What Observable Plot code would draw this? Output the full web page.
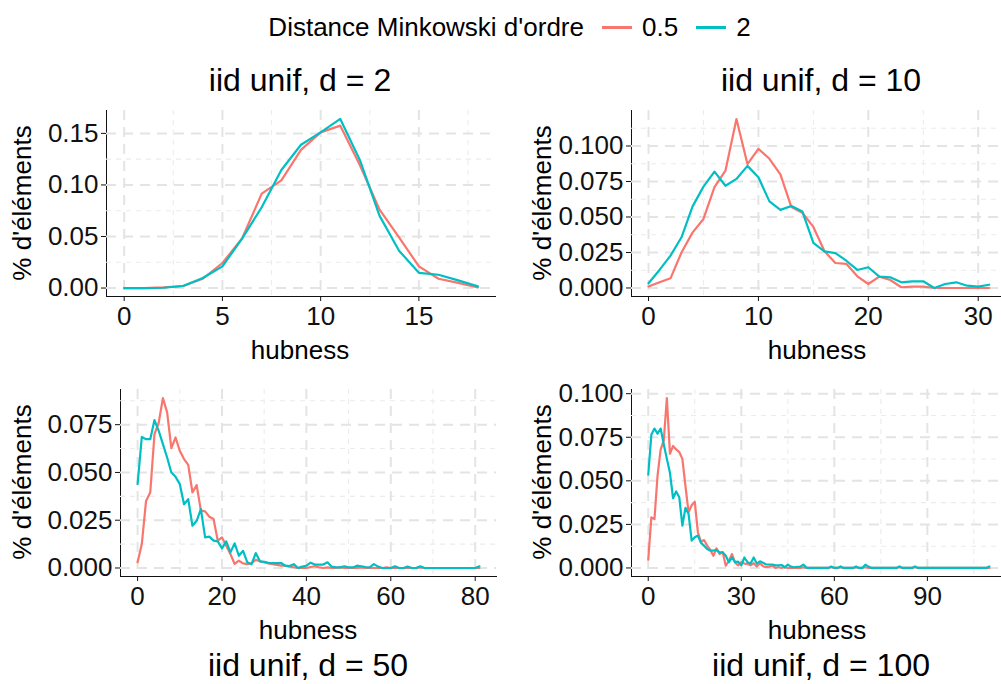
<!DOCTYPE html>
<html><head><meta charset="utf-8">
<script src="https://cdn.jsdelivr.net/npm/d3@7"></script>
<script src="https://cdn.jsdelivr.net/npm/@observablehq/plot@0.6"></script>
<style>
html,body{margin:0;padding:0;background:#fff;overflow:hidden}
#wrap{position:relative;width:1001px;height:684px;font-family:"Liberation Sans",Arial,sans-serif;color:#000}
.t{position:absolute;white-space:nowrap;line-height:1;transform:translate(-50%,-50%)}
.p{position:absolute}
</style></head><body><div id="wrap"></div>
<script>
// ---- data ----
const seriesNames = ["0.5", "2"];
const seriesColors = ["#F8766D", "#00BFC4"];
const legendTitle = "Distance Minkowski d'ordre";
const yLabel = "% d'éléments";
const xLabel = "hubness";
const titles = ["iid unif, d = 2", "iid unif, d = 10", "iid unif, d = 50", "iid unif, d = 100"];

const d2_hub = [0,1,2,3,4,5,6,7,8,9,10,11,12,13,14,15,16,17,18];
const d2_p05 = [0,0,0.0006,0.002,0.009,0.0243,0.048,0.0916,0.1045,0.134,0.151,0.1575,0.119,0.076,0.049,0.021,0.009,0.005,0.0005];
const d2_p2  = [0,0,0.0003,0.002,0.0097,0.021,0.048,0.0784,0.1145,0.139,0.151,0.164,0.124,0.070,0.036,0.0148,0.0129,0.0074,0.0016];

const d10_hub = [0,1,2,3,4,5,6,7,8,9,10,11,12,13,14,15,16,17,18,19,20,21,22,23,24,25,26,27,28,29,30,31];
const d10_p05 = [0.001,0.004,0.0068,0.025,0.039,0.0486,0.071,0.0826,0.119,0.0873,0.098,0.091,0.080,0.057,0.053,0.043,0.026,0.0176,0.017,0.0082,0.0028,0.008,0.0056,0.0005,0.001,0.001,0,0,0,0,0,0];
const d10_p2  = [0.0033,0.0127,0.0228,0.0357,0.0573,0.0714,0.082,0.072,0.0768,0.086,0.078,0.061,0.055,0.0578,0.0538,0.0317,0.0258,0.0246,0.0192,0.0127,0.0146,0.008,0.0075,0.004,0.0047,0.0047,0,0.0028,0.004,0.0016,0.001,0.0023];

const d50_hub = [0,1,2,3,4,5,6,7,8,9,10,11,12,13,14,15,16,17,18,19,20,21,22,23,24,25,26,27,28,29,30,31,32,33,34,35,36,37,38,39,40,41,42,43,44,45,46,47,48,49,50,51,52,53,54,55,56,57,58,59,60,61,62,63,64,65,66,67,68,69,70,71,72,73,74,75,76,77,78,79,80,81];
const d50_p05 = [0.003,0.0125,0.035,0.0395,0.070,0.076,0.0889,0.0814,0.0627,0.0683,0.0613,0.057,0.054,0.0395,0.0434,0.030,0.0296,0.0268,0.0256,0.0143,0.016,0.0117,0.0073,0.0021,0.0038,0.0024,0.002,0.0025,0.0043,0.0035,0.003,0.0024,0.002,0.0016,0.0012,0.0012,0.0007,0.0004,0,0.0002,0,0.0005,0.0009,0.0003,0,0.0003,0,0,0.0003,0,0,0,0,0.0003,0,0,0,0,0,0.0003,0,0,0,0,0,0,0,0.0003,0,0,0,0,0,0,0,0,0,0,0,0,0,0];
const d50_p2  = [0.0439,0.0686,0.0674,0.0674,0.0774,0.0718,0.0648,0.0578,0.050,0.0477,0.0439,0.0334,0.036,0.0221,0.0247,0.0308,0.016,0.0164,0.0143,0.0139,0.0103,0.0139,0.0082,0.0129,0.0064,0.009,0.003,0.002,0.0078,0.0035,0.0032,0.0027,0.0026,0.0026,0.0026,0.0012,0.001,0.002,0,0.0007,0.0012,0.0028,0.0018,0.0018,0.0018,0.003,0.0007,0.0003,0.0003,0.0009,0.0003,0.0003,0.0012,0.0009,0.0005,0.0003,0.002,0.0007,0,0,0,0.0009,0,0,0.0007,0,0,0.0009,0,0,0,0,0,0,0,0,0,0,0,0,0,0.0009];

const d100_hub = Array.from({length: 111}, (_, i) => i);
const d100_p05 = [0.0048,0.029,0.028,0.053,0.068,0.073,0.0975,0.0655,0.070,0.068,0.0665,0.0626,0.047,0.032,0.036,0.038,0.0205,0.015,0.016,0.0128,0.0103,0.007,0.0113,0.008,0.009,0.0013,0.004,0.008,0.003,0.0015,0.0033,0.0025,0.0023,0.0015,0.0027,0.0008,0.0027,0.001,0.0004,0.0008,0.0013,0,0.0004,0,0.0004,0,0,0,0,0,0.0004,0,0,0,0,0,0,0,0,0.0004,0,0,0.0004,0,0,0,0,0.0004,0,0,0.0004,0,0,0,0,0,0,0,0,0,0,0.0004,0,0,0,0,0.0004,0,0,0,0,0,0,0,0,0,0,0,0,0,0,0,0,0,0,0,0,0,0,0,0];
const d100_p2  = [0.0535,0.0764,0.080,0.077,0.080,0.071,0.0626,0.0546,0.040,0.0439,0.0406,0.0243,0.0345,0.031,0.0157,0.0176,0.0186,0.0144,0.0128,0.0109,0.010,0.010,0.0103,0.009,0.009,0.007,0.0033,0.0061,0.0033,0.0036,0.0015,0.006,0.0033,0.0025,0.006,0.0025,0.0038,0.003,0.002,0.002,0.002,0.0015,0.0015,0.0017,0.0004,0.0019,0.0008,0.0004,0.0006,0.0008,0.0019,0.0002,0,0,0,0,0,0,0,0.0008,0,0,0.0009,0,0,0,0,0.0008,0,0,0.0019,0.0008,0,0,0,0,0,0,0,0,0,0.0009,0,0,0,0,0.0009,0,0,0,0,0,0,0,0,0,0,0,0,0,0,0,0,0,0,0,0,0,0,0,0.0009];

// ticks and grid values
const d2_xTicks = [0,5,10,15], d2_xMinor = [2.5,7.5,12.5,17.5];
const d2_yTicks = [0,0.05,0.10,0.15], d2_yMinor = [0.025,0.075,0.125];
const d10_xTicks = [0,10,20,30], d10_xMinor = [5,15,25];
const d10_yTicks = [0,0.025,0.05,0.075,0.1], d10_yMinor = [0.0125,0.0375,0.0625,0.0875,0.1125];
const d50_xTicks = [0,20,40,60,80], d50_xMinor = [10,30,50,70];
const d50_yTicks = [0,0.025,0.05,0.075], d50_yMinor = [0.0125,0.0375,0.0625,0.0875];
const d100_xTicks = [0,30,60,90], d100_xMinor = [15,45,75,105];
const d100_yTicks = [0,0.025,0.05,0.075,0.1], d100_yMinor = [0.0125,0.0375,0.0625,0.0875];

function rowsOf(hub, a, b) {
  const r = [];
  hub.forEach((h, i) => r.push({h, v: a[i], s: seriesNames[0]}));
  hub.forEach((h, i) => r.push({h, v: b[i], s: seriesNames[1]}));
  return r;
}

const wrap = document.getElementById("wrap");
const FONT = '"Liberation Sans", Arial, sans-serif';

function addText(txt, x, y, size, rotate) {
  const d = document.createElement("div");
  d.className = "t";
  d.textContent = txt;
  d.style.left = x + "px";
  d.style.top = y + "px";
  d.style.fontSize = size + "px";
  if (rotate) d.style.transform = "translate(-50%,-50%) rotate(-90deg)";
  wrap.appendChild(d);
}

function panel(o) {
  const svg = Plot.plot({
    width: o.width, height: o.height,
    marginLeft: o.ml, marginRight: o.mr, marginTop: o.mt, marginBottom: o.mb,
    style: {fontSize: "26px", fontFamily: FONT, background: "transparent", color: "#111", overflow: "visible"},
    x: {domain: o.xDomain, ticks: o.xTicks, tickFormat: d => String(d), tickSize: 5, tickPadding: 5, line: true, label: null},
    y: {domain: o.yDomain, ticks: o.yTicks, tickFormat: d3.format(o.yFmt), tickSize: 5, tickPadding: 3, line: true, label: null},
    color: {domain: seriesNames, range: seriesColors},
    marks: [
      Plot.ruleY(o.yMinor, {stroke: "#ececec", strokeWidth: 1.1, strokeDasharray: "5,5"}),
      Plot.ruleX(o.xMinor, {stroke: "#ececec", strokeWidth: 1.1, strokeDasharray: "5,5"}),
      Plot.ruleY(o.yTicks, {stroke: "#e4e4e4", strokeWidth: 2, strokeDasharray: "10,7"}),
      Plot.ruleX(o.xTicks, {stroke: "#e4e4e4", strokeWidth: 2, strokeDasharray: "10,7"}),
      Plot.line(o.rows, {x: "h", y: "v", z: "s", stroke: "s", strokeWidth: 2.2})
    ]
  });
  svg.classList.add("p");
  svg.style.left = o.left + "px";
  svg.style.top = o.top + "px";
  wrap.appendChild(svg);
}

panel({left: 0, top: 100, width: 500, height: 240, ml: 106, mr: 5, mt: 10, mb: 44,
  xDomain: [-0.9, 18.9], yDomain: [-0.0082, 0.1722], xTicks: d2_xTicks, xMinor: d2_xMinor,
  yTicks: d2_yTicks, yMinor: d2_yMinor, yFmt: ".2f", rows: rowsOf(d2_hub, d2_p05, d2_p2)});
panel({left: 520, top: 100, width: 481, height: 240, ml: 111, mr: 0, mt: 10, mb: 44,
  xDomain: [-1.55, 32.12], yDomain: [-0.006, 0.125], xTicks: d10_xTicks, xMinor: d10_xMinor,
  yTicks: d10_yTicks, yMinor: d10_yMinor, yFmt: ".3f", rows: rowsOf(d10_hub, d10_p05, d10_p2)});
panel({left: 0, top: 380, width: 500, height: 240, ml: 120, mr: 4, mt: 9, mb: 44,
  xDomain: [-4.05, 85.05], yDomain: [-0.00445, 0.0934], xTicks: d50_xTicks, xMinor: d50_xMinor,
  yTicks: d50_yTicks, yMinor: d50_yMinor, yFmt: ".3f", rows: rowsOf(d50_hub, d50_p05, d50_p2)});
panel({left: 520, top: 380, width: 481, height: 240, ml: 111, mr: 0, mt: 9, mb: 44,
  xDomain: [-5.4, 113.9], yDomain: [-0.0049, 0.1024], xTicks: d100_xTicks, xMinor: d100_xMinor,
  yTicks: d100_yTicks, yMinor: d100_yMinor, yFmt: ".3f", rows: rowsOf(d100_hub, d100_p05, d100_p2)});

// axis titles
addText(xLabel, 300, 350, 26);
addText(xLabel, 817, 350, 26);
addText(xLabel, 308, 630, 26);
addText(xLabel, 817, 630, 26);
addText(yLabel, 22, 203, 26, true);
addText(yLabel, 542, 203, 26, true);
addText(yLabel, 22, 482, 26, true);
addText(yLabel, 542, 482, 26, true);
// panel titles
addText(titles[0], 300, 80, 32);
addText(titles[1], 821, 80, 32);
addText(titles[2], 308, 665, 32);
addText(titles[3], 821, 665, 32);

// legend
(function () {
  const lg = document.createElement("div");
  lg.style.cssText = "position:absolute;left:0;top:14px;width:1001px;display:flex;justify-content:center;align-items:center;font-size:26px;line-height:1;padding-left:18px;box-sizing:border-box";
  const title = document.createElement("span");
  title.textContent = legendTitle;
  title.style.marginRight = "18px";
  lg.appendChild(title);
  seriesNames.forEach((n, i) => {
    const k = document.createElement("span");
    k.style.cssText = "display:inline-block;width:30px;height:3px;margin-right:10px;background:" + seriesColors[i];
    lg.appendChild(k);
    const l = document.createElement("span");
    l.textContent = n;
    l.style.marginRight = i === 0 ? "18px" : "0";
    lg.appendChild(l);
  });
  wrap.appendChild(lg);
})();
</script></body></html>
